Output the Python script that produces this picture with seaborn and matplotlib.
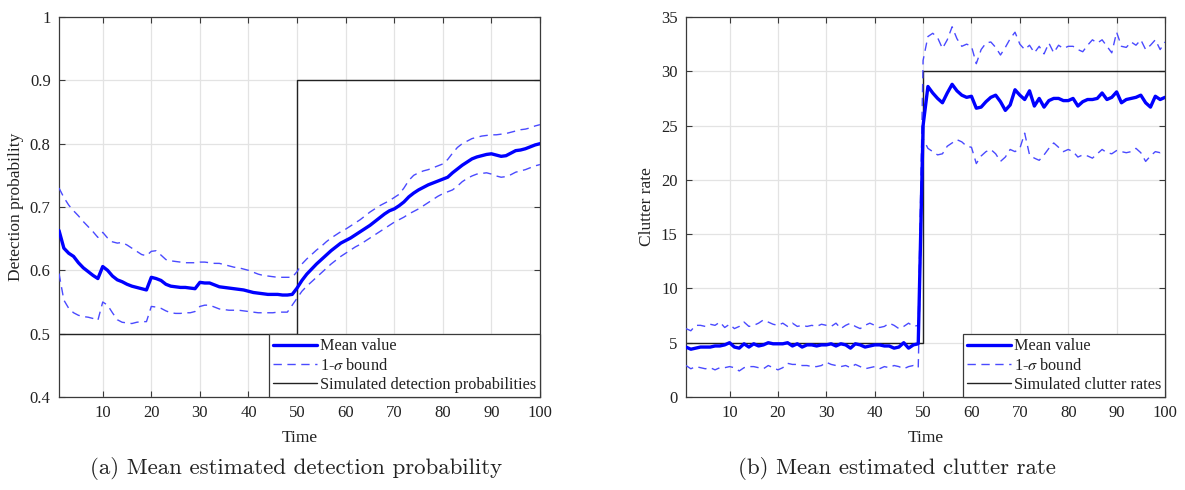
import numpy as np
import pandas as pd
import matplotlib
matplotlib.use("Agg")
import matplotlib.pyplot as plt
import seaborn as sns
from matplotlib.lines import Line2D

time = list(range(1, 101))

# ---- (a) detection probability ----
pd_mean = [0.663, 0.635, 0.627, 0.622, 0.612, 0.604, 0.598, 0.592, 0.587, 0.606,
           0.600, 0.591, 0.585, 0.582, 0.578, 0.575, 0.573, 0.571, 0.569, 0.589,
           0.587, 0.584, 0.578, 0.575, 0.574, 0.573, 0.573, 0.572, 0.571, 0.581,
           0.580, 0.580, 0.577, 0.574, 0.573, 0.572, 0.571, 0.570, 0.569, 0.567,
           0.565, 0.564, 0.563, 0.562, 0.562, 0.562, 0.561, 0.561, 0.562, 0.572,
           0.584, 0.594, 0.602, 0.610, 0.617, 0.624, 0.631, 0.637, 0.643, 0.647,
           0.651, 0.656, 0.661, 0.666, 0.671, 0.677, 0.683, 0.689, 0.694, 0.697,
           0.702, 0.708, 0.716, 0.722, 0.727, 0.731, 0.735, 0.738, 0.741, 0.744,
           0.747, 0.754, 0.760, 0.766, 0.771, 0.776, 0.779, 0.781, 0.783, 0.784,
           0.782, 0.780, 0.781, 0.785, 0.789, 0.790, 0.792, 0.795, 0.798, 0.800]
pd_upper = [0.730, 0.715, 0.703, 0.694, 0.686, 0.677, 0.669, 0.661, 0.652, 0.660,
            0.651, 0.645, 0.643, 0.644, 0.640, 0.635, 0.630, 0.625, 0.623, 0.630,
            0.631, 0.624, 0.617, 0.615, 0.614, 0.613, 0.612, 0.612, 0.612, 0.613,
            0.613, 0.612, 0.611, 0.611, 0.609, 0.607, 0.605, 0.604, 0.602, 0.600,
            0.597, 0.594, 0.592, 0.591, 0.590, 0.589, 0.589, 0.589, 0.589, 0.598,
            0.610, 0.618, 0.625, 0.632, 0.638, 0.645, 0.651, 0.656, 0.661, 0.665,
            0.670, 0.675, 0.680, 0.686, 0.692, 0.697, 0.702, 0.706, 0.710, 0.715,
            0.720, 0.730, 0.742, 0.750, 0.754, 0.757, 0.759, 0.762, 0.765, 0.768,
            0.775, 0.785, 0.794, 0.800, 0.804, 0.808, 0.810, 0.812, 0.813, 0.814,
            0.814, 0.815, 0.816, 0.818, 0.820, 0.822, 0.823, 0.825, 0.828, 0.830]
pd_lower = [0.595, 0.553, 0.540, 0.533, 0.529, 0.527, 0.526, 0.524, 0.521, 0.550,
            0.545, 0.533, 0.522, 0.518, 0.517, 0.516, 0.518, 0.519, 0.519, 0.543,
            0.542, 0.540, 0.536, 0.533, 0.532, 0.532, 0.533, 0.533, 0.535, 0.543,
            0.545, 0.545, 0.542, 0.539, 0.538, 0.537, 0.537, 0.537, 0.536, 0.535,
            0.534, 0.533, 0.533, 0.533, 0.533, 0.534, 0.534, 0.534, 0.545, 0.556,
            0.567, 0.575, 0.582, 0.589, 0.596, 0.603, 0.610, 0.616, 0.622, 0.627,
            0.632, 0.637, 0.641, 0.646, 0.651, 0.656, 0.661, 0.666, 0.671, 0.676,
            0.680, 0.684, 0.689, 0.693, 0.697, 0.702, 0.707, 0.712, 0.717, 0.721,
            0.724, 0.727, 0.733, 0.740, 0.745, 0.749, 0.752, 0.753, 0.754, 0.752,
            0.749, 0.747, 0.748, 0.751, 0.755, 0.757, 0.759, 0.762, 0.765, 0.767]
pd_true = [0.5] * 49 + [0.9] * 51

# ---- (b) clutter rate ----
cr_mean = [4.6, 4.4, 4.5, 4.6, 4.6, 4.6, 4.7, 4.7, 4.8, 5.0,
           4.6, 4.5, 4.9, 4.6, 4.9, 4.7, 4.8, 5.0, 4.9, 4.9,
           4.9, 5.0, 4.7, 4.9, 4.6, 4.8, 4.8, 4.7, 4.8, 4.8,
           4.9, 4.7, 4.9, 4.8, 4.5, 4.9, 4.8, 4.6, 4.7, 4.8,
           4.8, 4.7, 4.7, 4.5, 4.6, 5.0, 4.5, 4.8, 4.9, 25.0,
           28.6, 28.0, 27.5, 27.1, 28.0, 28.8, 28.2, 27.8, 27.6, 27.7,
           26.6, 26.7, 27.2, 27.6, 27.8, 27.2, 26.4, 26.9, 28.3, 27.8,
           27.4, 28.2, 26.8, 27.5, 26.7, 27.3, 27.5, 27.5, 27.3, 27.3,
           27.5, 26.8, 27.2, 27.4, 27.4, 27.5, 28.0, 27.4, 27.6, 28.1,
           27.1, 27.4, 27.5, 27.6, 27.8, 27.1, 26.7, 27.7, 27.4, 27.6]
cr_upper = [6.3, 6.1, 6.6, 6.6, 6.5, 6.7, 6.6, 6.9, 6.4, 6.7,
            6.3, 6.5, 6.9, 6.5, 6.6, 6.8, 7.1, 6.9, 6.7, 6.6,
            6.8, 6.5, 6.8, 6.5, 6.6, 6.5, 6.6, 6.5, 6.7, 6.6,
            6.5, 6.8, 6.3, 6.6, 6.8, 6.5, 6.3, 6.6, 6.8, 6.6,
            6.4, 6.5, 6.8, 6.6, 6.3, 6.5, 6.8, 6.5, 6.6, 31.0,
            33.2, 33.5, 33.1, 32.1, 32.9, 34.1, 33.0, 32.3, 32.5, 32.3,
            30.7, 32.0, 32.6, 32.7, 32.2, 31.5, 32.2, 33.0, 33.6, 32.5,
            32.0, 32.4, 31.7, 32.3, 31.6, 32.6, 31.7, 32.4, 32.1, 32.3,
            32.3, 32.0, 31.8, 32.4, 32.9, 32.6, 32.9, 32.3, 31.7, 33.6,
            32.3, 32.2, 32.7, 32.4, 32.9, 32.0, 32.4, 32.9, 32.0, 32.7]
cr_lower = [2.9, 2.6, 2.8, 2.7, 2.6, 2.7, 2.5, 2.7, 2.7, 2.8,
            2.7, 2.4, 2.7, 2.8, 2.8, 2.7, 2.6, 2.9, 2.7, 2.5,
            2.7, 3.1, 3.0, 3.0, 2.9, 2.9, 2.8, 2.8, 2.9, 3.2,
            3.0, 2.9, 2.8, 2.9, 2.7, 3.0, 2.8, 2.6, 2.7, 2.8,
            2.6, 2.8, 2.7, 2.9, 2.8, 2.6, 2.8, 2.9, 2.7, 23.8,
            22.9, 22.6, 22.3, 22.4, 23.1, 23.4, 23.7, 23.5, 23.1, 23.0,
            21.5, 22.2, 22.6, 22.8, 22.4, 21.7, 22.1, 22.8, 22.6, 22.9,
            24.3, 22.3, 22.0, 21.8, 22.3, 22.9, 23.4, 23.0, 22.6, 22.8,
            22.6, 22.1, 22.3, 22.2, 22.0, 22.4, 22.8, 22.5, 22.4, 22.7,
            22.6, 22.5, 22.6, 22.9, 22.5, 21.7, 22.2, 22.6, 22.5, 22.7]
cr_true = [5.0] * 49 + [30.0] * 51

legend_labels_a = ["Mean value", "1-$\\sigma$ bound", "Simulated detection probabilities"]
legend_labels_b = ["Mean value", "1-$\\sigma$ bound", "Simulated clutter rates"]
xticks = [10, 20, 30, 40, 50, 60, 70, 80, 90, 100]
yticks_a = [0.4, 0.5, 0.6, 0.7, 0.8, 0.9, 1.0]
ytick_labels_a = ["0.4", "0.5", "0.6", "0.7", "0.8", "0.9", "1"]
yticks_b = [0, 5, 10, 15, 20, 25, 30, 35]
captions = ["(a) Mean estimated detection probability", "(b) Mean estimated clutter rate"]

sns.set_theme(style="white")
plt.rcParams["font.family"] = ["Liberation Serif", "DejaVu Serif"]
plt.rcParams["mathtext.fontset"] = "stix"

fig = plt.figure(figsize=(11.85, 4.9), dpi=100)
axa = fig.add_axes([59 / 1185, 1 - 397 / 490, (540 - 59) / 1185, (397 - 17) / 490])
axb = fig.add_axes([686 / 1185, 1 - 397 / 490, (1165 - 686) / 1185, (397 - 17) / 490])

MEAN_C = "#0000ff"
BOUND_C = "#4a4aff"
TRUE_C = "#222222"


def draw(ax, mean, upper, lower, true, labels, ylim, yticks, yticklabels, ylabel):
    df = pd.DataFrame({"t": time, "mean": mean, "upper": upper, "lower": lower, "true": true})
    sns.lineplot(data=df, x="t", y="true", ax=ax, color=TRUE_C, lw=1.0,
                 drawstyle="steps-post", zorder=2)
    sns.lineplot(data=df, x="t", y="upper", ax=ax, color=BOUND_C, lw=1.0,
                 zorder=3).lines[-1].set_dashes([6, 4])
    sns.lineplot(data=df, x="t", y="lower", ax=ax, color=BOUND_C, lw=1.0,
                 zorder=3).lines[-1].set_dashes([6, 4])
    sns.lineplot(data=df, x="t", y="mean", ax=ax, color=MEAN_C, lw=2.4, zorder=4)
    ax.set_xlim(1, 100)
    ax.set_ylim(*ylim)
    ax.set_xticks(xticks)
    ax.set_xticklabels([str(v) for v in xticks])
    ax.set_yticks(yticks)
    ax.set_yticklabels(yticklabels)
    ax.grid(True, color="#e3e3e3", lw=0.9)
    ax.set_axisbelow(True)
    for s in ax.spines.values():
        s.set_color("#3a3a3a")
        s.set_linewidth(0.9)
    ax.tick_params(direction="in", length=4, width=0.8, color="#3a3a3a",
                   top=True, right=True, bottom=True, left=True,
                   labelsize=12, labelcolor="#222222", pad=6)
    ax.set_xlabel("Time", fontsize=12.5, color="#222222", labelpad=6)
    ax.set_ylabel(ylabel, fontsize=12.5, color="#222222", labelpad=4)
    handles = [Line2D([], [], color=MEAN_C, lw=2.4),
               Line2D([], [], color=BOUND_C, lw=1.0, dashes=[6, 4]),
               Line2D([], [], color=TRUE_C, lw=1.0)]
    leg = ax.legend(handles, labels, loc="lower right", borderaxespad=0.0,
                    fancybox=False, framealpha=1.0, edgecolor="#3a3a3a",
                    fontsize=11.7, handlelength=2.7, handletextpad=0.15,
                    labelspacing=0.2, borderpad=0.25)
    leg.get_frame().set_linewidth(0.9)
    for txt in leg.get_texts():
        txt.set_color("#222222")


draw(axa, pd_mean, pd_upper, pd_lower, pd_true, legend_labels_a,
     (0.4, 1.0), yticks_a, ytick_labels_a, "Detection probability")
draw(axb, cr_mean, cr_upper, cr_lower, cr_true, legend_labels_b,
     (0, 35), yticks_b, [str(v) for v in yticks_b], "Clutter rate")

fig.text(296 / 1185, 1 - 468 / 490, captions[0], ha="center", va="center",
         fontsize=16.5, family=["cmr10", "DejaVu Serif"], color="#222222")
fig.text(897 / 1185, 1 - 468 / 490, captions[1], ha="center", va="center",
         fontsize=16.5, family=["cmr10", "DejaVu Serif"], color="#222222")

fig.savefig("out.png", dpi=100, facecolor="white")
